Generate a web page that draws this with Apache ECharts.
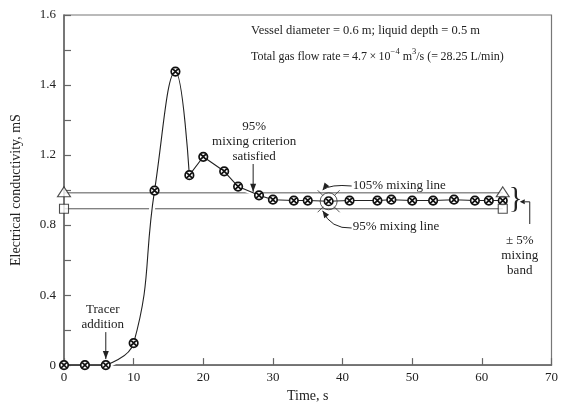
<!DOCTYPE html>
<html>
<head>
<meta charset="utf-8">
<script src="https://cdn.jsdelivr.net/npm/echarts@6/dist/echarts.min.js"></script>
<style>
  html, body { margin: 0; padding: 0; background: #fff; }
  #chart { width: 561px; height: 408px; }
</style>
</head>
<body>
<div id="chart"></div>
<script>
// Conductivity response after tracer addition (time in s, conductivity in mS)
const timeS = [0, 3, 6, 10, 13, 16, 18, 20, 23, 25, 28, 30, 33, 35, 38, 41, 45, 47, 50, 53, 56, 59, 61, 63];
const conductivity = [0, 0, 0, 0.126, 0.997, 1.677, 1.085, 1.19, 1.107, 1.02, 0.97, 0.945, 0.94, 0.94,
                      0.936, 0.94, 0.94, 0.945, 0.94, 0.94, 0.945, 0.94, 0.94, 0.94];

// ±5 % mixing band
const upperMixing = 0.984;   // 105% mixing line
const lowerMixing = 0.893;   // 95% mixing line
const bandTimes = [0, 63];

const tracerTime = 6;        // tracer added
const mixingTime = 38;       // point marked on the band

// axis ticks
const xMin = 0, xMax = 70, xStep = 10;
const yMin = 0, yMax = 2.0, yStep = 0.2, yLabelStep = 0.4;
const yTickLabels = ['0', '0.4', '0.8', '1.2', '1.4', '1.6'];

const FONT = 'Liberation Serif, DejaVu Serif, serif';
const INK = '#222';

const pts = timeS.map((t, i) => [t, conductivity[i]]);
const iTracer = timeS.indexOf(tracerTime);
const iPeakEnd = timeS.indexOf(18);
const flatPart = pts.slice(0, iTracer + 1);
const risePart = pts.slice(iTracer, iPeakEnd + 1);
const decayPart = pts.slice(iPeakEnd);
const mixingPt = pts[timeS.indexOf(mixingTime)];

// small circle with a cross inside
const dotSymbol = 'path://M0,-1A1,1,0,1,1,0,1A1,1,0,1,1,0,-1Z M-0.68,-0.68L0.68,0.68 M0.68,-0.68L-0.68,0.68';
const crossSymbol = 'path://M-1,-1L-0.5,-0.5 M1,-1L0.5,-0.5 M-1,1L-0.5,0.5 M1,1L0.5,0.5';

const chart = echarts.init(document.getElementById('chart'), null, { renderer: 'canvas' });

const lineBase = { type: 'line', symbol: 'none', silent: true, animation: false };

chart.setOption({
  animation: false,
  backgroundColor: '#fff',
  grid: { left: 64, right: 3, top: 15, bottom: 36, show: true, borderColor: '#777', borderWidth: 1.2 },
  xAxis: {
    type: 'value', min: xMin, max: xMax, interval: xStep,
    name: 'Time, s', nameLocation: 'middle', nameGap: 23,
    nameTextStyle: { fontFamily: FONT, fontSize: 14, color: INK },
    axisLine: { lineStyle: { color: '#666', width: 1.5 } },
    axisTick: { inside: true, length: 7, lineStyle: { color: '#666', width: 1.2 } },
    axisLabel: { fontFamily: FONT, fontSize: 13, color: INK, margin: 6 },
    splitLine: { show: false }
  },
  yAxis: {
    type: 'value', min: yMin, max: yMax, interval: yStep,
    name: 'Electrical conductivity, mS', nameLocation: 'middle', nameGap: 41,
    nameTextStyle: { fontFamily: FONT, fontSize: 14, color: INK },
    axisLine: { lineStyle: { color: '#666', width: 1.5 } },
    axisTick: { inside: true, length: 7, lineStyle: { color: '#666', width: 1.2 } },
    axisLabel: {
      fontFamily: FONT, fontSize: 13, color: INK, margin: 8,
      formatter: v => {
        const k = Math.round(v / yLabelStep);
        return Math.abs(v - k * yLabelStep) < 1e-6 ? (yTickLabels[k] || '') : '';
      }
    },
    splitLine: { show: false }
  },
  series: [
    { ...lineBase, name: '105% mixing line', z: 2,
      data: bandTimes.map(t => [t, upperMixing]), lineStyle: { color: '#555', width: 1 } },
    { ...lineBase, name: '95% mixing line', z: 2,
      data: bandTimes.map(t => [t, lowerMixing]), lineStyle: { color: '#555', width: 1 } },
    // white casing so the trace cuts through the band lines
    { ...lineBase, z: 3, data: risePart, smooth: 0.45, lineStyle: { color: '#fff', width: 6 } },
    { ...lineBase, z: 3, data: decayPart, lineStyle: { color: '#fff', width: 5 } },
    // conductivity trace
    { ...lineBase, z: 4, data: flatPart, lineStyle: { color: INK, width: 1.1 } },
    { ...lineBase, z: 4, data: risePart, smooth: 0.45, lineStyle: { color: INK, width: 1.1 } },
    { ...lineBase, z: 4, data: decayPart, lineStyle: { color: INK, width: 1.1 } },
    {
      type: 'scatter', z: 5, data: pts, symbol: dotSymbol, symbolSize: 8.5, silent: true,
      itemStyle: { color: '#fff', borderColor: '#111', borderWidth: 1.7, opacity: 1 }
    },
    {
      type: 'scatter', z: 5, data: [mixingPt], symbol: 'circle', symbolSize: 17, silent: true,
      itemStyle: { color: 'rgba(0,0,0,0)', borderColor: '#333', borderWidth: 1 }
    },
    {
      type: 'scatter', z: 5, data: [mixingPt], symbol: crossSymbol, symbolSize: 22, silent: true,
      itemStyle: { color: 'rgba(0,0,0,0)', borderColor: '#333', borderWidth: 1 }
    },
    {
      type: 'scatter', z: 6, data: bandTimes.map(t => [t, upperMixing]), symbol: 'triangle',
      symbolSize: [13, 10], symbolOffset: [0, -1], silent: true,
      itemStyle: { color: '#fff', borderColor: INK, borderWidth: 1.1 }
    },
    {
      type: 'scatter', z: 6, data: bandTimes.map(t => [t, lowerMixing]), symbol: 'rect',
      symbolSize: 9, silent: true,
      itemStyle: { color: '#fff', borderColor: INK, borderWidth: 1.1 }
    }
  ]
});

// ---- annotations ----
const px = (x, y) => chart.convertToPixel({ gridIndex: 0 }, [x, y]);

function arrowHead(tip, from, len, half) {
  const dx = tip[0] - from[0], dy = tip[1] - from[1];
  const d = Math.hypot(dx, dy) || 1;
  const ux = dx / d, uy = dy / d;
  const bx = tip[0] - ux * len, by = tip[1] - uy * len;
  return {
    type: 'polygon', z: 20, silent: true,
    shape: { points: [tip, [bx - uy * half, by + ux * half], [bx + uy * half, by - ux * half]] },
    style: { fill: INK }
  };
}
function text(x, y, str, align, extra) {
  return {
    type: 'text', z: 20, silent: true,
    style: Object.assign({
      x, y, text: str, font: '13px ' + FONT, fill: INK,
      textAlign: align || 'left', textVerticalAlign: 'middle'
    }, extra || {})
  };
}
function seg(points, w) {
  return { type: 'polyline', z: 20, silent: true, shape: { points },
           style: { stroke: INK, lineWidth: w || 1, fill: null } };
}

// where the decaying trace first enters the 105% line
let tCross = null;
for (let i = iPeakEnd; i < pts.length - 1; i++) {
  const [t0, v0] = pts[i], [t1, v1] = pts[i + 1];
  if (v0 >= upperMixing && v1 < upperMixing) { tCross = t0 + (v0 - upperMixing) / (v0 - v1) * (t1 - t0); break; }
}

const pTracer = px(tracerTime, 0);
const pCross = px(tCross, upperMixing);
const pMix = px(mixingTime, mixingPt[1]);
const yUp = px(0, upperMixing)[1];
const yLo = px(0, lowerMixing)[1];
const pEnd = px(bandTimes[1], upperMixing);

const g = [];
// header notes
g.push(text(251, 31, 'Vessel diameter = 0.6 m; liquid depth = 0.5 m', 'left', { font: '12.5px ' + FONT }));
g.push(text(251, 55, '{n|Total gas flow rate\u2009=\u20094.7\u2009×\u200910}{s|−4}{n| m}{s|3}{n|/s (=\u200928.25 L/min)}', 'left', {
  rich: {
    n: { font: '12px ' + FONT, fill: INK, lineHeight: 16, verticalAlign: 'bottom' },
    s: { font: '8.5px ' + FONT, fill: INK, lineHeight: 16, verticalAlign: 'top' }
  }
}));

// tracer addition
g.push(text(pTracer[0] - 3, 310, 'Tracer', 'center'));
g.push(text(pTracer[0] - 3, 325, 'addition', 'center'));
const tTip = [pTracer[0], pTracer[1] - 6];
g.push(seg([[pTracer[0], pTracer[1] - 33], tTip]));
g.push(arrowHead(tTip, [pTracer[0], pTracer[1] - 33], 8, 3));

// mixing criterion
g.push(text(pCross[0] + 1, 127, '95%', 'center'));
g.push(text(pCross[0] + 1, 142, 'mixing criterion', 'center'));
g.push(text(pCross[0] + 1, 157, 'satisfied', 'center'));
const cTip = [pCross[0], pCross[1] - 1];
g.push(seg([[pCross[0], 164], cTip]));
g.push(arrowHead(cTip, [pCross[0], 164], 8, 3));

// 105% / 95% line callouts
const lx = pMix[0] + 24;
g.push(text(lx, 186, '105% mixing line'));
g.push(text(lx, 227, '95% mixing line'));
const upTip = [pMix[0] - 6, yUp - 3];
const loTip = [pMix[0] - 6, yLo + 2];
g.push({ type: 'bezierCurve', z: 20, silent: true,
  shape: { x1: lx - 1, y1: 186, x2: upTip[0], y2: upTip[1], cpx1: pMix[0] + 2, cpy1: 184 },
  style: { stroke: INK, lineWidth: 1, fill: null } });
g.push(arrowHead(upTip, [pMix[0] + 1, yUp - 12], 7, 3));
g.push({ type: 'bezierCurve', z: 20, silent: true,
  shape: { x1: lx - 1, y1: 228, x2: loTip[0], y2: loTip[1], cpx1: pMix[0] + 2, cpy1: 229 },
  style: { stroke: INK, lineWidth: 1, fill: null } });
g.push(arrowHead(loTip, [pMix[0] + 1, yLo + 12], 7, 3));

// ±5 % band brace
const midBand = (yUp + yLo) / 2;
const braceX = pEnd[0] + 13;
g.push(text(braceX, midBand - 1, '}', 'center', { font: '29px ' + FONT }));
const bx = pEnd[0] + 27;
g.push(seg([[bx, 224], [bx, midBand + 1], [bx - 5, midBand + 1]]));
g.push(arrowHead([bx - 10, midBand + 1], [bx - 5, midBand + 1], 5, 2.5));
g.push(text(bx - 10, 241, '± 5%', 'center'));
g.push(text(bx - 10, 256, 'mixing', 'center'));
g.push(text(bx - 10, 271, 'band', 'center'));

chart.setOption({ graphic: { elements: g } });
</script>
</body>
</html>
